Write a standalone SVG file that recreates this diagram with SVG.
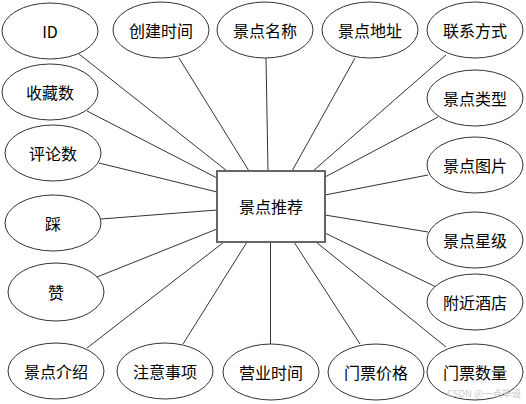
<svg xmlns="http://www.w3.org/2000/svg" width="526" height="404" viewBox="0 0 526 404">
<style>
.n ellipse{fill:#fff;stroke:#333;stroke-width:1}
.n rect{fill:#fff;stroke:#666;stroke-width:2}
text{font-family:"Noto Sans CJK SC","Liberation Sans",sans-serif;font-size:16px;fill:#000;text-anchor:middle;dominant-baseline:central}
#edges line{stroke:#333;stroke-width:1}
.wm{font-size:9.5px;fill:#c8c8c8;text-anchor:start}
</style>
<rect width="526" height="404" fill="#fff"/>
<g id="edges">
<line x1="79" y1="54" x2="227" y2="171"/>
<line x1="179" y1="58" x2="249" y2="171"/>
<line x1="266" y1="58" x2="268" y2="171"/>
<line x1="355" y1="58" x2="292" y2="171"/>
<line x1="446" y1="55" x2="313" y2="171"/>
<line x1="438" y1="117" x2="325" y2="177"/>
<line x1="428" y1="175" x2="325" y2="195"/>
<line x1="428" y1="232" x2="325" y2="215"/>
<line x1="436" y1="287" x2="325" y2="233"/>
<line x1="446" y1="347" x2="316" y2="242"/>
<line x1="360" y1="344" x2="294" y2="242"/>
<line x1="270.5" y1="344" x2="270.5" y2="242"/>
<line x1="183" y1="344" x2="247" y2="242"/>
<line x1="87" y1="348" x2="224" y2="242"/>
<line x1="97" y1="277" x2="217" y2="229"/>
<line x1="101" y1="219" x2="217" y2="210"/>
<line x1="99" y1="163" x2="217" y2="192"/>
<line x1="87" y1="111" x2="217" y2="178"/>
</g>
<g id="center" class="n"><rect x="217" y="171" width="108" height="71"/><text x="271" y="206">景点推荐</text></g>
<g id="id" class="n"><ellipse cx="50" cy="31" rx="48" ry="28"/><text x="50" y="31">ID</text></g>
<g id="cjsj" class="n"><ellipse cx="161" cy="30" rx="48" ry="28"/><text x="161" y="30">创建时间</text></g>
<g id="jdmc" class="n"><ellipse cx="265" cy="30" rx="48" ry="28"/><text x="265" y="30">景点名称</text></g>
<g id="jddz" class="n"><ellipse cx="370" cy="30" rx="48" ry="28"/><text x="370" y="30">景点地址</text></g>
<g id="lxfs" class="n"><ellipse cx="475" cy="30" rx="48" ry="28"/><text x="475" y="30">联系方式</text></g>
<g id="jdlx" class="n"><ellipse cx="475" cy="98" rx="48" ry="28"/><text x="475" y="98">景点类型</text></g>
<g id="jdtp" class="n"><ellipse cx="475" cy="165" rx="48" ry="28"/><text x="475" y="165">景点图片</text></g>
<g id="jdxj" class="n"><ellipse cx="475" cy="240" rx="48" ry="28"/><text x="475" y="240">景点星级</text></g>
<g id="fjjd" class="n"><ellipse cx="475" cy="302" rx="48" ry="28"/><text x="475" y="302">附近酒店</text></g>
<g id="mpsl" class="n"><ellipse cx="475" cy="372" rx="48" ry="28"/><text x="475" y="372">门票数量</text></g>
<g id="mpjg" class="n"><ellipse cx="376" cy="372" rx="48" ry="28"/><text x="376" y="372">门票价格</text></g>
<g id="yysj" class="n"><ellipse cx="271" cy="372" rx="48" ry="28"/><text x="271" y="372">营业时间</text></g>
<g id="zysx" class="n"><ellipse cx="165" cy="371" rx="48" ry="28"/><text x="165" y="371">注意事项</text></g>
<g id="jdjs" class="n"><ellipse cx="56" cy="371" rx="48" ry="28"/><text x="56" y="371">景点介绍</text></g>
<g id="zan" class="n"><ellipse cx="56" cy="292" rx="48" ry="29"/><text x="56" y="292">赞</text></g>
<g id="cai" class="n"><ellipse cx="53" cy="223" rx="48" ry="28"/><text x="53" y="223">踩</text></g>
<g id="pls" class="n"><ellipse cx="53" cy="153" rx="48" ry="28"/><text x="53" y="153">评论数</text></g>
<g id="scs" class="n"><ellipse cx="50" cy="92" rx="48" ry="28"/><text x="50" y="92">收藏数</text></g>
<text class="wm" x="447" y="393">CSDN @一点毕设</text>
</svg>
